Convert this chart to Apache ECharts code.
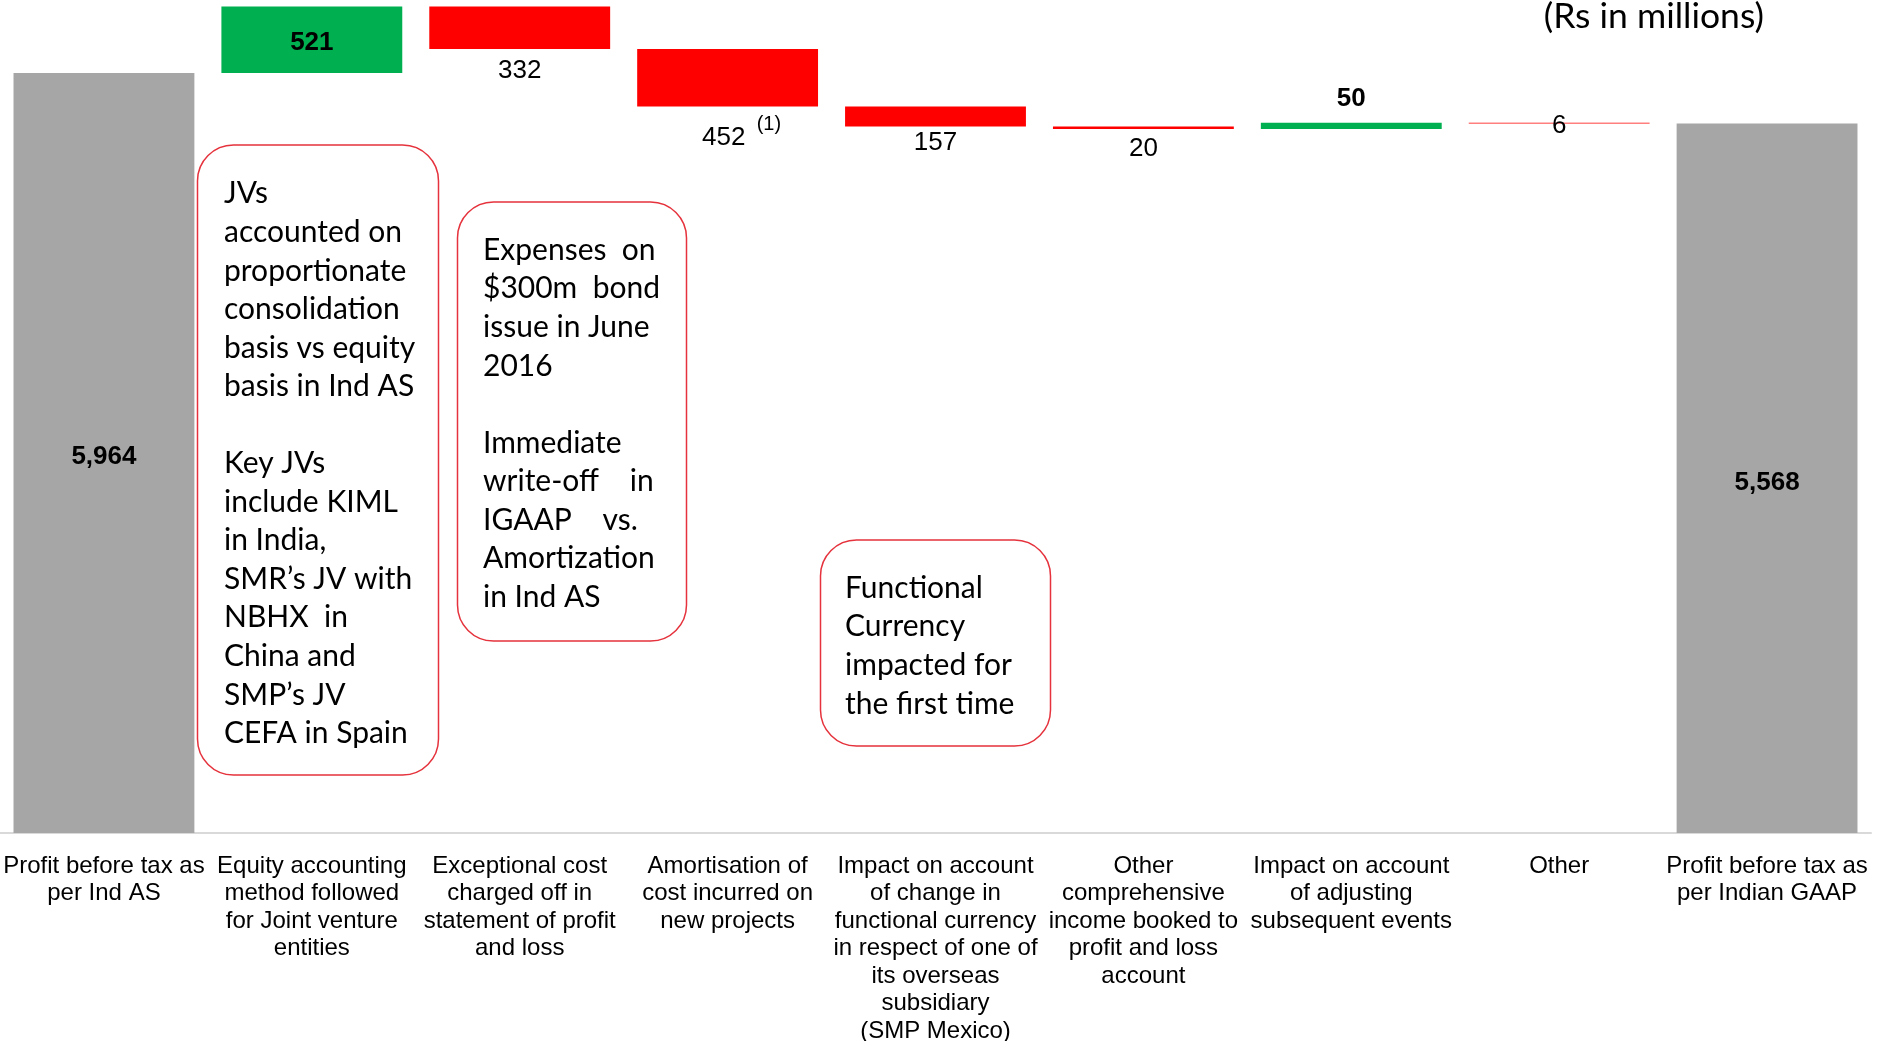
<!DOCTYPE html>
<html>
<head>
<meta charset="utf-8">
<script src="https://cdn.jsdelivr.net/npm/echarts@6/dist/echarts.min.js"></script>
<style>
html,body{margin:0;padding:0;background:#fff;}
#chart{width:1877px;height:1041px;}
</style>
</head>
<body>
<div id="chart"></div>
<script>
// ---- data ----
const categories = [
  'Profit before tax as\nper Ind AS',
  'Equity accounting\nmethod followed\nfor Joint venture\nentities',
  'Exceptional cost\ncharged off in\nstatement of profit\nand loss',
  'Amortisation of\ncost incurred on\nnew projects',
  'Impact on account\nof change in\nfunctional currency\nin respect of one of\nits overseas\nsubsidiary\n(SMP Mexico)',
  'Other\ncomprehensive\nincome booked to\nprofit and loss\naccount',
  'Impact on account\nof adjusting\nsubsequent events',
  'Other',
  'Profit before tax as\nper Indian GAAP'
];
const values = [5964, 521, -332, -452, -157, -20, 50, -6, 5568];
const kinds = ['total', 'delta', 'delta', 'delta', 'delta', 'delta', 'delta', 'delta', 'total'];
const valueLabels = ['5,964', '521', '332', '452', '157', '20', '50', '6', '5,568'];
const footnotes = ['', '', '', '(1)', '', '', '', '', ''];
const unitNote = '(Rs in millions)';
const notes = [
  'JVs\naccounted on\nproportionate\nconsolidation\nbasis vs equity\nbasis in Ind AS\n\nKey JVs\ninclude KIML\nin India,\nSMR\u2019s JV with\nNBHX  in\nChina and\nSMP\u2019s JV\nCEFA in Spain',
  'Expenses  on\n$300m  bond\nissue in June\n2016\n\nImmediate\nwrite-off    in\nIGAAP    vs.\nAmortization\nin Ind AS',
  'Functional\nCurrency\nimpacted for\nthe first time'
];

// ---- styles (kept separate from data) ----
const COLORS = { total: '#a6a6a6', up: '#00b050', down: '#ff0000' };
const labelPos = ['inside', 'inside', 'bottom', 'bottom', 'bottom', 'bottom', 'top', 'inside', 'inside'];
const labelBold = [true, true, false, false, false, false, true, false, true];
const labelDist = [0, 0, 9, 7.5, 3, 7, 11, 0, 0];
const labelOffset = [[0,4],[0,3],[0,0],[14,0],[0,0],[0,0],[0,0],[0,3],[0,5]];
const FONT_A = 'Liberation Sans, Arial, sans-serif';

// ---- build waterfall ----
const baseData = [];
const barData = [];
let running = 0;
values.forEach((v, i) => {
  let base, h, color;
  if (kinds[i] === 'total') {
    base = 0; h = v; running = v; color = COLORS.total;
  } else if (v >= 0) {
    base = running; h = v; running += v; color = COLORS.up;
  } else {
    base = running + v; h = -v; running += v; color = COLORS.down;
  }
  baseData.push(base);
  const lbl = {
    show: true,
    position: labelPos[i],
    distance: labelDist[i],
    offset: labelOffset[i],
    color: '#000',
    fontFamily: FONT_A,
    fontSize: 26,
    fontWeight: labelBold[i] ? 'bold' : 'normal',
    formatter: footnotes[i] ? '{v|' + valueLabels[i] + ' }{s|' + footnotes[i] + '}' : valueLabels[i]
  };
  if (footnotes[i]) {
    lbl.rich = {
      v: { fontSize: 26, verticalAlign: 'bottom', padding: [11, 0, 0, 0], color: '#000', fontFamily: FONT_A },
      s: { fontSize: 20, verticalAlign: 'top', padding: [0, 0, 14, 4], color: '#000', fontFamily: FONT_A }
    };
  }
  barData.push({ value: h, itemStyle: { color: color }, label: lbl });
});

const chart = echarts.init(document.getElementById('chart'), null, { renderer: 'canvas' });

const noteFont = { fontFamily: 'Lato', fontSize: 30, lineHeight: 38.55, fill: '#000' };
function noteBox(x, y, w, h, tx, ty, text) {
  return {
    type: 'group',
    children: [
      { type: 'rect', shape: { x: x, y: y, width: w, height: h, r: 36 },
        style: { fill: '#fff', stroke: '#e5323c', lineWidth: 1.5 }, z: 10 },
      { type: 'text', x: tx, y: ty, z: 11,
        style: Object.assign({ text: text, verticalAlign: 'top', align: 'left' }, noteFont) }
    ]
  };
}

chart.setOption({
  animation: false,
  backgroundColor: '#fff',
  grid: { left: 0, right: 6, top: 4.7, bottom: 208, containLabel: false, outerBoundsMode: 'none' },
  xAxis: {
    type: 'category',
    data: categories,
    axisLine: { show: true, lineStyle: { color: '#d9d9d9', width: 2 } },
    axisTick: { show: false },
    axisLabel: {
      interval: 0,
      margin: 19.3,
      color: '#000',
      fontFamily: FONT_A,
      fontSize: 24,
      lineHeight: 27.5
    }
  },
  yAxis: { type: 'value', min: 0, max: 6500, show: false, splitLine: { show: false } },
  series: [
    { type: 'bar', stack: 'w', data: baseData, itemStyle: { color: 'transparent' },
      barCategoryGap: '13%', silent: true, label: { show: false } },
    { type: 'bar', stack: 'w', data: barData, barCategoryGap: '13%' }
  ],
  graphic: [
    { type: 'text', right: 113, top: -1,
      style: { text: unitNote, fontFamily: 'Lato', fontSize: 35.5, fill: '#000' } },
    noteBox(197.5, 145, 241, 630, 224, 174.5, notes[0]),
    noteBox(457.5, 202, 229, 439, 483, 231, notes[1]),
    noteBox(820.5, 540, 230, 206, 845, 569, notes[2])
  ]
});
</script>
</body>
</html>
